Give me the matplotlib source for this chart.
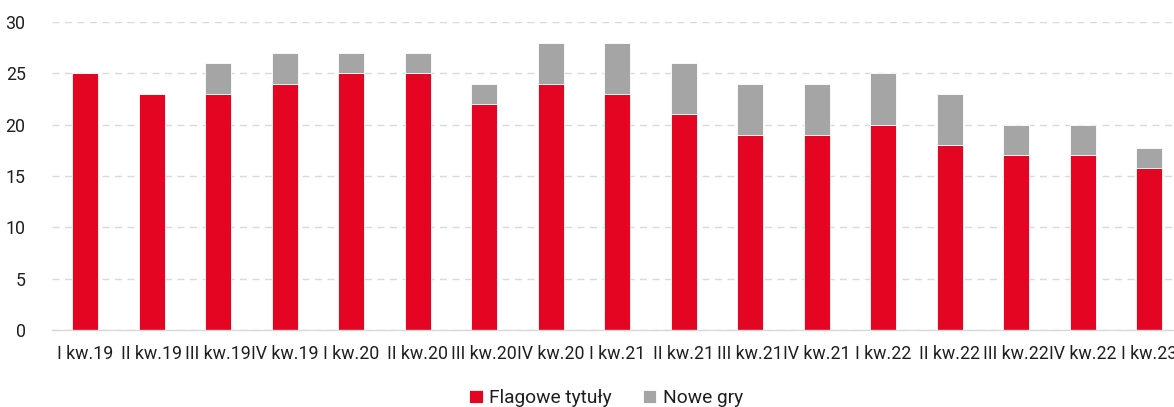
import numpy as np
import matplotlib.pyplot as plt

plt.rcParams['font.family'] = ['Roboto', 'DejaVu Sans']

kwartaly = ['I kw.19', 'II kw.19', 'III kw.19', 'IV kw.19',
            'I kw.20', 'II kw.20', 'III kw.20', 'IV kw.20',
            'I kw.21', 'II kw.21', 'III kw.21', 'IV kw.21',
            'I kw.22', 'II kw.22', 'III kw.22', 'IV kw.22',
            'I kw.23']
flagowe = [25, 23, 23, 24, 25, 25, 22, 24, 23, 21, 19, 19, 20, 18, 17, 17, 15.8]
nowe = [0, 0, 3, 3, 2, 2, 2, 4, 5, 5, 5, 5, 5, 5, 3, 3, 1.9]

RED = '#E30521'
GREY = '#A5A5A5'
TXT = '#1F1F1F'

fig = plt.figure(figsize=(11.74, 4.07), dpi=100)
ax = fig.add_axes([52/1174, 77/407, 17*66.5/1174, 308/407])

x = np.arange(len(kwartaly))
w = 0.39
ax.bar(x, flagowe, w, color=RED, edgecolor='white', linewidth=0.6,
       label='Flagowe tytuły', zorder=3)
ax.bar(x, nowe, w, bottom=flagowe, color=GREY, edgecolor='white',
       linewidth=0.6, label='Nowe gry', zorder=3)

ax.set_xlim(-0.5, len(kwartaly) - 0.5)
ax.set_ylim(0, 30)
ax.set_yticks(range(0, 31, 5))
ax.set_xticks(x)
ax.set_xticklabels(kwartaly)
ax.tick_params(axis='both', length=0, labelsize=12.8, colors=TXT)
ax.tick_params(axis='y', pad=19)
ax.tick_params(axis='x', pad=11)

ax.grid(axis='y', color='#D9D9D9', linestyle=(0, (5, 4)), linewidth=1, zorder=0)
for s in ['top', 'right', 'left']:
    ax.spines[s].set_visible(False)
ax.spines['bottom'].set_color('#D9D9D9')
ax.spines['bottom'].set_linewidth(1)
ax.spines['bottom'].set_zorder(4)

fig.legend(loc='center', bbox_to_anchor=(606/1174, 1 - 398/407), ncol=2,
           frameon=False, fontsize=13.8, handlelength=0.7, handleheight=0.7,
           handletextpad=0.35, columnspacing=1.6, labelcolor=TXT)

fig.savefig('out.png', dpi=100)
